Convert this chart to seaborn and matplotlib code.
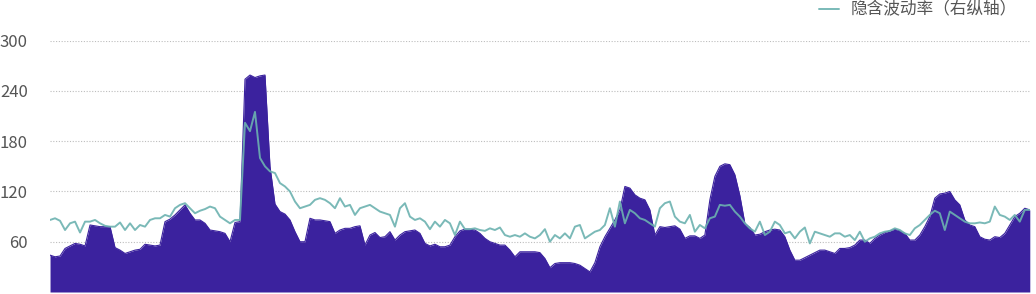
import numpy as np
import pandas as pd
import matplotlib
matplotlib.use("Agg")
import matplotlib.pyplot as plt
import seaborn as sns

# ---- data ----
area_values = [
    44, 42, 43, 52, 55, 58, 57, 55, 80, 79, 78, 78, 78, 53, 50, 46, 48, 50, 51, 57,
    56, 55, 56, 84, 87, 92, 98, 104, 94, 86, 86, 82, 74, 73, 72, 70, 60, 83, 84, 254,
    259, 256, 258, 259, 150, 105, 96, 93, 86, 72, 60, 60, 88, 86, 86, 85, 84, 70, 74, 76,
    76, 78, 79, 56, 68, 71, 65, 66, 72, 62, 68, 72, 73, 74, 70, 58, 55, 57, 54, 54,
    56, 66, 73, 75, 75, 74, 70, 64, 60, 58, 56, 56, 50, 42, 48, 48, 48, 48, 47, 40,
    29, 34, 35, 35, 35, 34, 32, 28, 24, 35, 54, 66, 76, 86, 98, 126, 124, 116, 112, 110,
    98, 68, 78, 77, 78, 79, 75, 64, 67, 67, 64, 68, 110, 138, 150, 153, 152, 140, 115, 82,
    77, 68, 69, 72, 74, 75, 74, 66, 50, 38, 38, 41, 44, 47, 50, 50, 48, 46, 52, 52,
    53, 56, 62, 62, 58, 64, 68, 71, 73, 75, 73, 70, 62, 62, 68, 78, 90, 112, 117, 118,
    120, 110, 104, 86, 80, 78, 66, 63, 62, 66, 65, 70, 80, 90, 94, 100, 98,
]
implied_vol = [
    86, 88, 85, 74, 82, 84, 71, 84, 84, 86, 82, 79, 78, 78, 83, 74, 82, 74, 80, 78,
    86, 88, 88, 92, 90, 100, 104, 106, 100, 94, 97, 99, 102, 100, 90, 86, 82, 86, 86, 202,
    192, 215, 160, 150, 144, 142, 130, 126, 120, 108, 100, 102, 104, 110, 112, 110, 106, 100, 112, 102,
    104, 92, 100, 102, 104, 100, 96, 94, 92, 78, 100, 106, 90, 86, 88, 84, 75, 84, 78, 86,
    82, 68, 84, 75, 75, 76, 74, 73, 76, 74, 77, 68, 66, 68, 66, 70, 66, 64, 68, 75,
    60, 68, 64, 70, 64, 78, 80, 64, 68, 72, 74, 80, 100, 78, 108, 82, 98, 94, 88, 86,
    82, 78, 100, 106, 108, 90, 84, 82, 92, 72, 80, 76, 88, 90, 104, 103, 104, 96, 90, 82,
    76, 72, 84, 68, 72, 84, 80, 70, 72, 64, 72, 77, 58, 72, 70, 68, 66, 70, 70, 66,
    68, 62, 72, 60, 64, 66, 70, 72, 73, 76, 74, 70, 68, 76, 80, 86, 92, 97, 94, 74,
    96, 92, 88, 84, 82, 82, 83, 82, 84, 102, 92, 90, 86, 92, 84, 98, 98,
]
left_ticks = [60, 120, 180, 240, 300]
legend_label = "隐含波动率（右纵轴）"

n = min(len(area_values), len(implied_vol))
df = pd.DataFrame({
    "t": np.arange(n),
    "area": area_values[:n],
    "iv": implied_vol[:n],
})

# ---- style ----
sns.set_theme(style="white")
plt.rcParams["font.family"] = ["Noto Sans CJK SC", "DejaVu Sans"]

purple = "#3b229e"
teal = "#6cb2b0"

fig = plt.figure(figsize=(10.36, 2.94), dpi=100)
ax = fig.add_axes([0.0483, 0.0068, 0.9457, 0.8548])

ax.fill_between(df["t"], 0, df["area"], color=purple, linewidth=0, zorder=2)
sns.lineplot(data=df, x="t", y="area", ax=ax, color=purple, linewidth=0.8, zorder=2)

ax.set_xlim(0, n - 1)
ax.set_ylim(0, 300)
ax.set_yticks(left_ticks)
ax.set_yticklabels([str(v) for v in left_ticks])
ax.set_xticks([])
ax.set_xlabel("")
ax.set_ylabel("")
ax.grid(axis="y", color="#bdbdbd", linestyle=(0, (1, 1.5)), linewidth=0.8, zorder=0)
ax.set_axisbelow(True)
ax.tick_params(axis="y", length=0, pad=16, labelsize=12, labelcolor="#555555")
for s in ax.spines.values():
    s.set_visible(False)

ax2 = ax.twinx()
sns.lineplot(data=df, x="t", y="iv", ax=ax2, color=teal, linewidth=1.4, alpha=0.9,
             label=legend_label, zorder=3)
ax2.set_ylim(0, 300)
ax2.set_xlim(0, n - 1)
ax2.set_yticks([])
ax2.set_ylabel("")
ax2.set_xlabel("")
for s in ax2.spines.values():
    s.set_visible(False)

leg = ax2.legend(loc="center right", bbox_to_anchor=(0.982, 0.966),
                 bbox_transform=fig.transFigure, frameon=False,
                 fontsize=12, handlelength=1.2, handletextpad=0.7,
                 borderaxespad=0, borderpad=0)
for t in leg.get_texts():
    t.set_color("#555555")

fig.savefig("out.png", dpi=100)
